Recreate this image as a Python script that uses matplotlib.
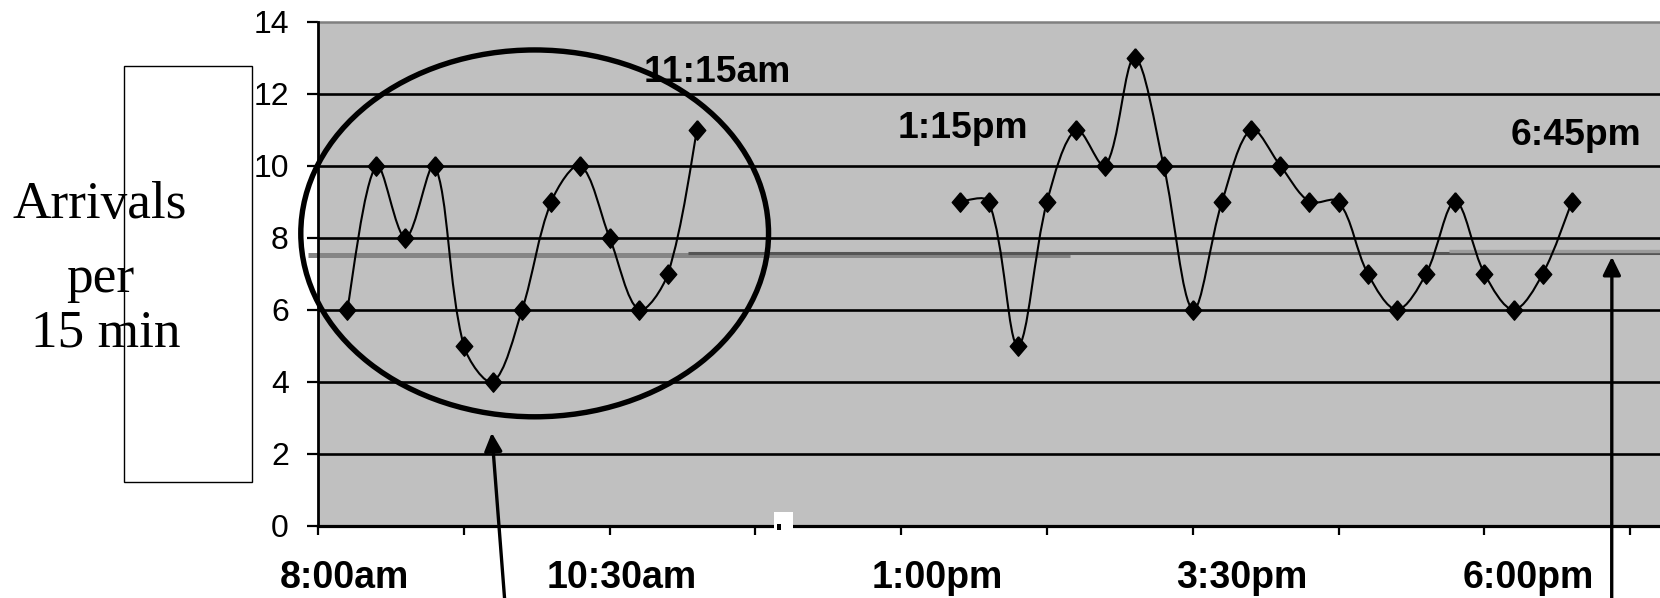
import numpy as np
import matplotlib
matplotlib.use("Agg")
import matplotlib.pyplot as plt
from matplotlib.path import Path
from matplotlib.patches import PathPatch, Ellipse, Rectangle
from matplotlib import transforms

# ---------------- data ----------------
morning_slots = [1, 2, 3, 4, 5, 6, 7, 8, 9, 10, 11, 12, 13]
morning_vals = [6, 10, 8, 10, 5, 4, 6, 9, 10, 8, 6, 7, 11]
afternoon_slots = list(range(22, 44))
afternoon_vals = [9, 9, 5, 9, 11, 10, 13, 10, 6, 9, 11, 10, 9, 9, 7, 6, 7, 9, 7, 6, 7, 9]

x_labels = ["8:00am", "10:30am", "1:00pm", "3:30pm", "6:00pm"]
x_label_pos = [0.89, 10.43, 21.23, 31.69, 41.49]
y_ticks = [0, 2, 4, 6, 8, 10, 12, 14]

avg_levels = [7.52, 7.57, 7.64]
avg_starts = [-0.34, 12.7, 38.8]
avg_ends = [25.8, 46.02, 46.02]
avg_colors = ["#858585", "#555555", "#9a9a9a"]
avg_widths = [3.6, 2.2, 2.4]

callouts = ["11:15am", "1:15pm", "6:45pm"]
callout_x = [11.15, 19.89, 40.91]
callout_y = [12.33, 10.77, 10.58]

# ---------------- figure ----------------
W, H = 1660, 598
fig = plt.figure(figsize=(W / 100, H / 100), dpi=100)
ax = fig.add_axes([318 / W, 72.3 / H, (W - 318) / W, 504 / H])
ax.set_xlim(0, 46.02)
ax.set_ylim(0, 14)
ax.set_facecolor("#c0c0c0")

# gridlines
for yv in y_ticks[1:-1]:
    ax.axhline(yv, color="black", lw=1.9, zorder=1)

# average lines
for lv, s, e, c, w in zip(avg_levels, avg_starts, avg_ends, avg_colors, avg_widths):
    ax.plot([s, e], [lv, lv], color=c, lw=w, solid_capstyle="butt", zorder=2, clip_on=False)


def smooth_path(xs, ys, t=1.0 / 3.0):
    """Bezier smoothing with tangent length weighted by neighbouring segment
    lengths (measured in display pixels), similar to spreadsheet smoothing."""
    xs = np.asarray(xs, float)
    ys = np.asarray(ys, float)
    pts = np.column_stack([xs, ys])
    disp = ax.transData.transform(pts)
    n = len(xs)
    seg = np.hypot(*(np.diff(disp, axis=0).T))
    verts = [tuple(pts[0])]
    codes = [Path.MOVETO]
    for i in range(n - 1):
        i0 = max(i - 1, 0)
        i3 = min(i + 2, n - 1)
        d01 = seg[i - 1] if i > 0 else 0.0
        d12 = seg[i]
        d23 = seg[i + 1] if i + 1 < n - 1 else 0.0
        f1 = t * d12 / (d01 + d12) if i > 0 else t * 0.5
        f2 = t * d12 / (d12 + d23) if i + 1 < n - 1 else t * 0.5
        c1 = pts[i] + (pts[i + 1] - pts[i0]) * f1
        c2 = pts[i + 1] - (pts[i3] - pts[i]) * f2
        verts += [tuple(c1), tuple(c2), tuple(pts[i + 1])]
        codes += [Path.CURVE4, Path.CURVE4, Path.CURVE4]
    return Path(verts, codes)


diamond = [(0, 1), (0.85, 0), (0, -1), (-0.85, 0), (0, 1)]
for xs, ys in [(morning_slots, morning_vals), (afternoon_slots, afternoon_vals)]:
    ax.add_patch(PathPatch(smooth_path(xs, ys), facecolor="none", edgecolor="black",
                           lw=1.5, zorder=3))
    ax.plot(xs, ys, linestyle="none", marker=diamond, markersize=14,
            color="black", zorder=4)

# spines
ax.spines["right"].set_visible(False)
ax.spines["top"].set_color("#808080")
ax.spines["top"].set_linewidth(1.8)
ax.spines["left"].set_linewidth(2.0)
ax.spines["bottom"].set_linewidth(2.3)
for s in ["left", "bottom"]:
    ax.spines[s].set_zorder(5)

# ticks
ax.set_yticks(y_ticks)
ax.set_yticklabels([str(v) for v in y_ticks], fontsize=23, family="Liberation Sans")
ax.tick_params(axis="y", length=8, width=1.6, pad=13, direction="out")
ax.set_xticks(np.arange(0, 46, 5))
ax.set_xticklabels([])
ax.tick_params(axis="x", length=6.5, width=1.6, direction="out")

blend = transforms.blended_transform_factory(ax.transData, fig.transFigure)
for lab, xp in zip(x_labels, x_label_pos):
    ax.text(xp, 10 / H, lab, transform=blend, ha="center", va="baseline",
            fontsize=27, fontweight="bold", family="Liberation Sans", clip_on=False)

# callout texts
for lab, xp, yp in zip(callouts, callout_x, callout_y):
    ax.text(xp, yp, lab, ha="left", va="baseline", fontsize=26.8,
            fontweight="bold", family="Liberation Sans", zorder=6)

# ellipse
ax.add_patch(Ellipse((7.43, 8.12), 16.04, 10.19, facecolor="none", edgecolor="black",
                     lw=3.9, zorder=7, clip_on=False))

# arrows
arrow_kw = dict(arrowstyle="-|>,head_length=0.55,head_width=0.27", color="black",
                lw=2.4, mutation_scale=20, shrinkA=0, shrinkB=0)
ax.annotate("", xy=(5.96, 2.58), xycoords="data", xytext=(505, -6),
            textcoords="figure pixels", arrowprops=arrow_kw, zorder=8,
            annotation_clip=False)
ax.annotate("", xy=(44.37, 7.47), xycoords="data", xytext=(1611.7, -6),
            textcoords="figure pixels", arrowprops=arrow_kw, zorder=8,
            annotation_clip=False)

# y-label box and text
fig.patches.append(Rectangle((124 / W, (H - 481.7) / H), 128 / W, 415.7 / H,
                             transform=fig.transFigure, facecolor="white",
                             edgecolor="black", lw=1.0, zorder=0))
for txt, cx, by in [("Arrivals", 100, 218.3), ("per", 100, 292.5), ("15 min", 106, 346.7)]:
    fig.text(cx / W, (H - by) / H, txt, ha="center", va="baseline", fontsize=38.3,
             family="Liberation Serif", zorder=2)

# small white artifact on axis
fig.patches.append(Rectangle((774 / W, (H - 530) / H), 19 / W, 18 / H,
                             transform=fig.transFigure, facecolor="white",
                             edgecolor="none", zorder=10))
fig.patches.append(Rectangle((776.7 / W, (H - 530) / H), 4 / W, 6 / H,
                             transform=fig.transFigure, facecolor="black",
                             edgecolor="none", zorder=11))

fig.savefig("out.png", dpi=100)
